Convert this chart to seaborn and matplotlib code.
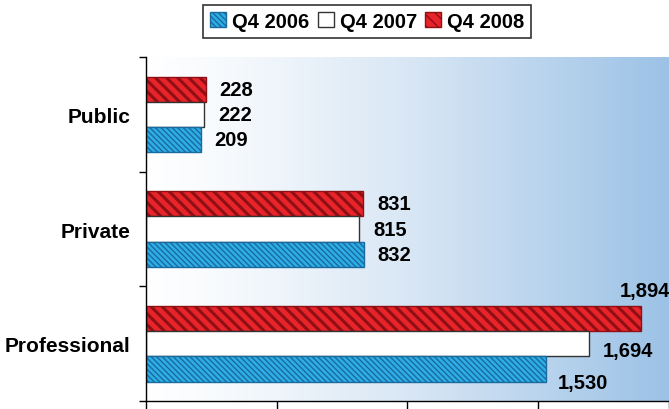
import numpy as np
import pandas as pd
import seaborn as sns
import matplotlib.pyplot as plt
from matplotlib.colors import LinearSegmentedColormap
from matplotlib.patches import Patch

# data
segments = ['Public', 'Private', 'Professional']
quarters = ['Q4 2006', 'Q4 2007', 'Q4 2008']
q4_2006 = [209, 832, 1530]
q4_2007 = [222, 815, 1694]
q4_2008 = [228, 831, 1894]

sns.set_style('white')
plt.rcParams['font.family'] = ['Liberation Sans', 'DejaVu Sans']
plt.rcParams['text.color'] = 'black'
plt.rcParams['ytick.color'] = 'black'
plt.rcParams['xtick.color'] = 'black'
plt.rcParams['hatch.linewidth'] = 1.0

df = pd.DataFrame({
    'segment': segments * 3,
    'quarter': [q for q in quarters for _ in segments],
    'value': q4_2006 + q4_2007 + q4_2008,
})

colors = {'Q4 2006': '#2DAEE6', 'Q4 2007': '#FFFFFF', 'Q4 2008': '#E8242A'}
edges = {'Q4 2006': '#1B6A9E', 'Q4 2007': '#333333', 'Q4 2008': '#8E1014'}
hatches = {'Q4 2006': '\\' * 6, 'Q4 2007': '', 'Q4 2008': '\\' * 3}
hatch_lw = {'Q4 2006': 1.0, 'Q4 2007': 1.0, 'Q4 2008': 2.2}
plot_order = ['Q4 2008', 'Q4 2007', 'Q4 2006']  # top to bottom inside a group

fig = plt.figure(figsize=(6.69, 4.10), dpi=100)
ax = fig.add_axes([0.2182, 0.0195, 0.7818, 0.839])

# gradient background
grad = LinearSegmentedColormap.from_list(
    'bg', [(0, '#FFFFFF'), (0.15, '#F7FAFD'), (0.5, '#D9E7F5'), (1, '#9CC2E6')])
ax.imshow(np.linspace(0, 1, 256).reshape(1, -1), cmap=grad, aspect='auto',
          extent=[0, 1, 0, 1], transform=ax.transAxes, zorder=0)

sns.barplot(data=df, y='segment', x='value', hue='quarter', order=segments,
            hue_order=plot_order, palette=colors, orient='h', width=0.66,
            saturation=1, legend=False, ax=ax, zorder=2)

def style_patch(p, q):
    p.set_edgecolor(edges[q])
    p.set_hatch(hatches[q])
    p.set_linewidth(1.0)
    if hasattr(p, 'set_hatch_linewidth'):
        p.set_hatch_linewidth(hatch_lw[q])

for q, cont in zip(plot_order, ax.containers):
    for bar in cont:
        style_patch(bar, q)

# value labels
offsets = {
    ('Professional', 'Q4 2008'): (-22, 28),
    ('Professional', 'Q4 2007'): (14, -7),
    ('Professional', 'Q4 2006'): (12, -14),
}
for q, cont in zip(plot_order, ax.containers):
    for seg, bar in zip(segments, cont):
        w = bar.get_width()
        dx, dy = offsets.get((seg, q), (14, 0))
        ax.annotate(f'{w:,.0f}', xy=(w, bar.get_y() + bar.get_height() / 2),
                    xytext=(dx, dy), textcoords='offset pixels', ha='left',
                    va='center', fontsize=14.5, fontweight='bold',
                    color='black', annotation_clip=False)

ax.set_xlim(0, 2000)
ax.set_ylim(2.5, -0.5)
ax.set_xticks([0, 500, 1000, 1500, 2000])
ax.set_xticklabels([])
ax.set_yticks(range(len(segments)))
ax.set_yticklabels(segments, fontsize=15, fontweight='bold', color='black')
ax.set_yticks([-0.5, 0.5, 1.5, 2.5], minor=True)
ax.tick_params(axis='y', which='major', length=0, pad=11)
ax.tick_params(axis='y', which='minor', length=5, width=1, color='black', direction='out', left=True)
ax.tick_params(axis='x', length=9, width=1, color='black', direction='out', bottom=True)
ax.set_xlabel('')
ax.set_ylabel('')
for s in ['top', 'right']:
    ax.spines[s].set_visible(False)
for s in ['left', 'bottom']:
    ax.spines[s].set_color('black')
    ax.spines[s].set_linewidth(1.0)

handles = []
for q in quarters:
    h = Patch(facecolor=colors[q], label=q)
    style_patch(h, q)
    handles.append(h)
leg = fig.legend(handles=handles, loc='center', bbox_to_anchor=(0.549, 0.946), ncol=3,
                 frameon=True, fancybox=False, handlelength=0.8, handleheight=0.8,
                 handletextpad=0.3, columnspacing=0.4, borderpad=0.35,
                 prop={'size': 14.5, 'weight': 'bold'})
leg.get_frame().set_edgecolor('black')
leg.get_frame().set_linewidth(1.2)
for t in leg.get_texts():
    t.set_color('black')

fig.savefig('out.png', dpi=100)
